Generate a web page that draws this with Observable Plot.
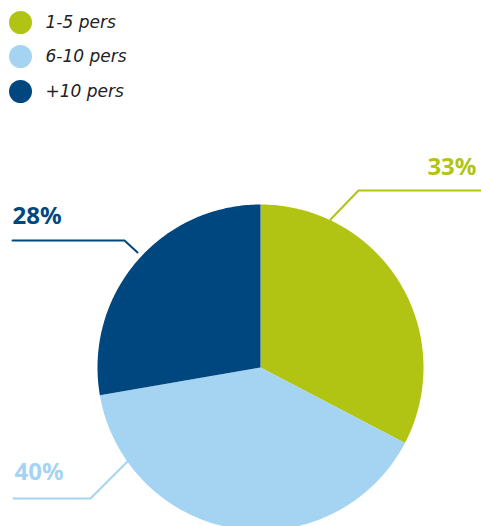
<!DOCTYPE html>
<html><head><meta charset="utf-8">
<script src="https://cdn.jsdelivr.net/npm/d3@7"></script>
<script src="https://cdn.jsdelivr.net/npm/@observablehq/plot@0.6"></script>
<style>body{margin:0;background:#fff}#chart svg{display:block}</style>
</head><body><div id="chart"></div>
<script>
// Data
const categories = ["1-5 pers", "6-10 pers", "+10 pers"];
const values = [33, 40, 28];
const labels = ["33%", "40%", "28%"];
const colors = ["#b1c414", "#a5d4f3", "#00467f"];

// Layout (pixels)
const W = 481, H = 526;
const cx = 260, cy = 367, R = 163;
const legendX = 20, legendY = [22, 56, 91];
const labelPos = [[476, 167, "end"], [14, 472, "start"], [12, 216, "start"]];
const leaders = [
  [[330, 219], [358, 190], [481, 190]],
  [[127, 461], [90, 498], [13, 498]],
  [[137, 252], [124, 240], [12, 240]]
];

const total = d3.sum(values);
const slices = [];
let acc = 0;
values.forEach((v, i) => {
  const a0 = acc / total * 2 * Math.PI, a1 = (acc + v) / total * 2 * Math.PI;
  acc += v;
  const pts = [{x: cx, y: cy}];
  const n = 120;
  for (let k = 0; k <= n; k++) {
    const a = a0 + (a1 - a0) * k / n;
    pts.push({x: cx + R * Math.sin(a), y: cy - R * Math.cos(a)});
  }
  pts.push({x: cx, y: cy});
  pts.forEach(p => slices.push({...p, cat: categories[i]}));
});

const leaderPts = leaders.flatMap((pts, i) => pts.map(([x, y]) => ({x, y, cat: categories[i]})));
const labelData = labels.map((t, i) => ({t, x: labelPos[i][0], y: labelPos[i][1], anchor: labelPos[i][2], cat: categories[i]}));
const legendData = categories.map((c, i) => ({c, y: legendY[i]}));

const colorScale = {domain: categories, range: colors};

const chart = Plot.plot({
  width: W, height: H,
  margin: 0,
  x: {domain: [0, W], range: [0, W], axis: null},
  y: {domain: [0, H], range: [0, H], axis: null},
  color: colorScale,
  style: {fontFamily: "'Noto Sans', sans-serif", background: "#fff"},
  marks: [
    Plot.line(slices, {x: "x", y: "y", z: "cat", fill: "cat", stroke: null, curve: "linear"}),
    Plot.line(leaderPts, {x: "x", y: "y", z: "cat", stroke: "cat", strokeWidth: 2, curve: "linear"}),
    Plot.text(labelData.filter(d => d.anchor === "end"), {x: "x", y: "y", text: "t", fill: "cat", textAnchor: "end", fontSize: 24, fontWeight: "bold"}),
    Plot.text(labelData.filter(d => d.anchor === "start"), {x: "x", y: "y", text: "t", fill: "cat", textAnchor: "start", fontSize: 24, fontWeight: "bold"}),
    Plot.dot(legendData, {x: legendX, y: "y", r: 11.5, fill: "c", stroke: null}),
    Plot.text(legendData, {x: 45, y: "y", text: "c", textAnchor: "start", fontSize: 17, fontStyle: "italic", fontFamily: "'DejaVu Sans', sans-serif", fill: "#222"})
  ]
});
document.getElementById("chart").appendChild(chart);
</script></body></html>
